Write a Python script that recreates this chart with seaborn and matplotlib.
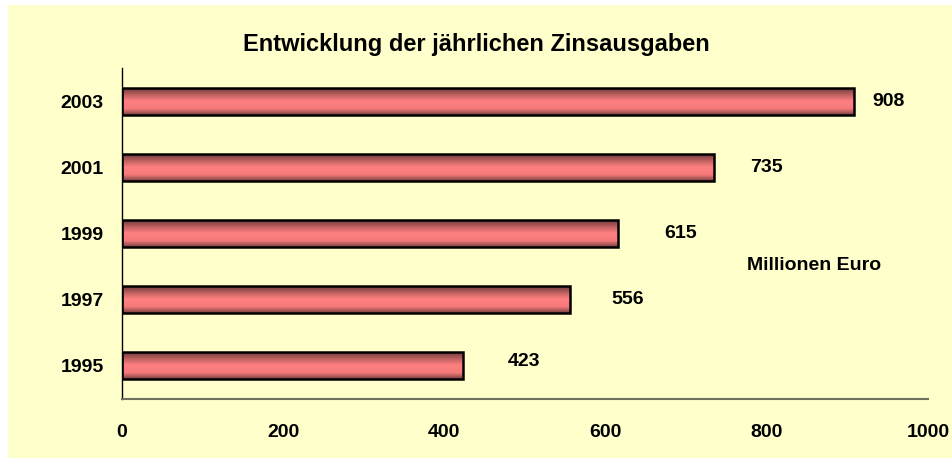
import numpy as np
import matplotlib
matplotlib.use("Agg")
import matplotlib.pyplot as plt
from matplotlib.colors import LinearSegmentedColormap
from matplotlib.patches import Rectangle
import seaborn as sns

# Daten
jahre = ["2003", "2001", "1999", "1997", "1995"]
zinsausgaben = [908, 735, 615, 556, 423]
x_ticks = [0, 200, 400, 600, 800, 1000]

# Abstand der Beschriftungen zum Balkenende (Pixel)
label_dx = [35, 52, 63, 58, 61]
label_dy = [0, 0, 0, 0, 4]

sns.set_theme(style="white")
plt.rcParams["font.family"] = ["Liberation Sans", "DejaVu Sans"]
plt.rcParams["font.weight"] = "bold"
plt.rcParams["text.color"] = "black"

fig = plt.figure(figsize=(9.52, 4.62), dpi=100, facecolor="white")
# gelber Hintergrund
fig.patches.append(Rectangle((8 / 952, 4 / 462), 1 - 8 / 952, 453 / 462,
                             transform=fig.transFigure, facecolor="#FFFFCC",
                             edgecolor="none", zorder=-5))
ax = fig.add_axes([122 / 952, 1 - 399 / 462, (928 - 122) / 952, (399 - 68) / 462])
ax.set_facecolor("none")
ax.set_zorder(2)

sns.barplot(x=zinsausgaben, y=jahre, order=jahre, orient="h", width=0.41,
            color="#FF8080", saturation=1, ax=ax)

# Farbverlauf in den Balken
cmap = LinearSegmentedColormap.from_list(
    "bar", [(0.0, "#653636"), (0.3, "#C86464"), (0.5, "#FF8080"),
            (0.78, "#F57A7A"), (1.0, "#7A4040")])
grad = np.linspace(0, 1, 64).reshape(-1, 1)
for p in ax.patches:
    x0, y0, w, h = p.get_x(), p.get_y(), p.get_width(), p.get_height()
    p.set_facecolor("none")
    p.set_edgecolor("black")
    p.set_linewidth(1.8)
    p.set_zorder(3)
    im = ax.imshow(grad, cmap=cmap, aspect="auto", extent=[x0, x0 + w, y0 + h, y0],
                   origin="upper", zorder=2)
    im.set_clip_path(p)

ax.set_xlim(0, 1000)
ax.set_ylim(4.5, -0.5)
ax.set_xticks(x_ticks)
ax.set_xticklabels([str(t) for t in x_ticks], fontsize=14, fontweight="bold")
for lbl in ax.get_yticklabels():
    lbl.set_fontsize(14)
    lbl.set_fontweight("bold")
ax.set_xlabel("")
ax.set_ylabel("")

ax.tick_params(axis="x", length=5, width=1, color="#707060", direction="out",
               pad=13, labelcolor="black")
ax.tick_params(axis="y", length=0, pad=13, labelcolor="black")
for s in ["top", "right"]:
    ax.spines[s].set_visible(False)
ax.spines["left"].set_color("black")
ax.spines["left"].set_linewidth(1)
ax.spines["bottom"].set_color("#707060")
ax.spines["bottom"].set_linewidth(1.5)

for i, (v, dx, dy) in enumerate(zip(zinsausgaben, label_dx, label_dy)):
    ax.annotate(str(v), xy=(v, i), xytext=(dx, dy), textcoords="offset pixels",
                ha="center", va="center", fontsize=14, fontweight="bold")

fig.text(0.5, 1 - 45 / 462, "Entwicklung der jährlichen Zinsausgaben",
         ha="center", va="center", fontsize=17, fontweight="bold")
fig.text(814 / 952, 1 - 266 / 462, "Millionen Euro",
         ha="center", va="center", fontsize=14, fontweight="bold")

fig.savefig("out.png", dpi=100, facecolor="white")
